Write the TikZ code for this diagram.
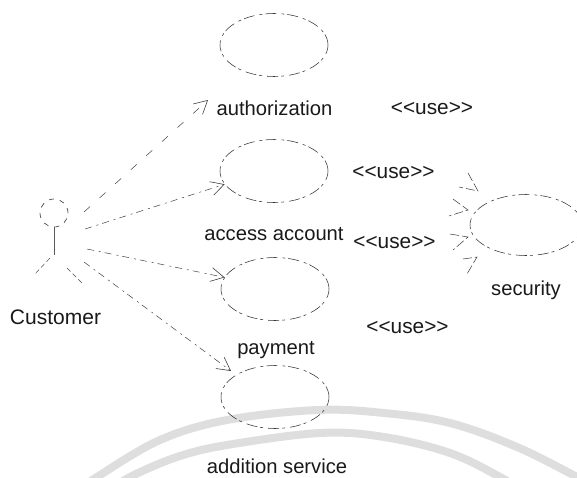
\documentclass[tikz,border=0pt]{standalone}
\usepackage{fontspec}
\setmainfont{Liberation Sans}
\usetikzlibrary{arrows.meta,shapes.geometric}
\tikzset{
 x=1pt,y=-1pt,
 usecase/.style={draw=black!80,line width=0.55pt,dash pattern=on 11pt off 3pt on 3pt off 5pt,ellipse,minimum width=108pt,minimum height=63pt,inner sep=0pt},
 txt/.style={inner sep=0pt,font=\fontsize{20.2}{22}\selectfont,text=black!90},
 usetxt/.style={txt,font=\fontsize{20.8}{22}\selectfont},
 flow/.style={draw=black!75,line width=0.5pt,dash pattern=on 7pt off 5pt on 2pt off 4pt,-{Straight Barb[length=13pt,width=14pt,line width=0.6pt]}},
 usearrow/.style={draw=black!80,line width=0.5pt,dash pattern=on 9pt off 3pt},
 limb/.style={draw=black!70,line width=0.5pt,dash pattern=on 5pt off 3pt},
 wmband/.style={draw=black!13,line width=8pt},
}
\begin{document}
\begin{tikzpicture}
\useasboundingbox (0,0) rectangle (577,477);
\clip (0,0) rectangle (577,477);
% watermark
\draw[wmband] plot[smooth,tension=0.6] coordinates {(80,490) (97,477) (160,440) (227,420) (317,410) (384,413) (450,423) (517,447) (577,477) (600,490)};
\draw[wmband] plot[smooth,tension=0.6] coordinates {(112,490) (130,477) (177,457) (227,445) (320,433) (384,437) (450,453) (500,477) (520,490)};
% use cases
\node[usecase] (auth) at (274,45) {};
\node[usecase] (access) at (274,171) {};
\node[usecase] (pay) at (275,289) {};
\node[usecase] (add) at (275,397) {};
\node[usecase,minimum width=112pt,minimum height=61pt] (sec) at (526,225) {};
% labels
\node[txt] (lauth) at (274.5,108) {authorization};
\node[txt] (laccess) at (274,234) {access account};
\node[txt] (lpay) at (276,350) {payment};
\node[txt] (ladd) at (277,466) {addition service};
\node[txt] (lsec) at (526,290) {security};
\node[txt,font=\fontsize{21}{22}\selectfont] (lcust) at (55.5,317) {Customer};
\node[usetxt] (u1) at (432,109) {<{}<use>{}>};
\node[usetxt] (u2) at (393.5,173) {<{}<use>{}>};
\node[usetxt] (u3) at (394.5,243) {<{}<use>{}>};
\node[usetxt] (u4) at (407.5,328) {<{}<use>{}>};
% actor
\node[draw=black!80,line width=0.6pt,dash pattern=on 5pt off 6pt,circle,minimum size=28pt,inner sep=0pt] (head) at (54,213) {};
\coordinate (hip) at (54,255);
\coordinate (legl) at (50,258);
\coordinate (footl) at (34,275);
\coordinate (legr) at (67,268);
\coordinate (footr) at (82,283);
\draw[black!65,line width=0.9pt] (head.south) -- (hip);
\draw[limb] (legl) -- (footl);
\draw[limb] (legr) -- (footr);
% customer connectors
\coordinate (c1) at (84,212);
\coordinate (c2) at (85,229);
\coordinate (c3) at (87,249);
\coordinate (c4) at (84,262);
\coordinate (e1) at (208,100);
\coordinate (e4) at (231,371);
\draw[flow,dash pattern=on 8pt off 13pt] (c1) -- (e1);
\draw[flow] (c2) -- (access.195);
\draw[flow] (c3) -- (pay.167);
\draw[flow] (c4) -- (e4);
% use arrows
\coordinate (t1) at (478,191);
\coordinate (t2) at (468,210);
\coordinate (t3) at (468,237);
\coordinate (t4) at (477,257);
\draw[usearrow] (468,173) -- (t1) -- (459,187);
\draw[usearrow] (453,199) -- (t2) -- (449,216);
\draw[usearrow] (450,234) -- (t3) -- (453,250);
\draw[usearrow] (463,259) -- (t4) -- (467,274);
\end{tikzpicture}
\end{document}
